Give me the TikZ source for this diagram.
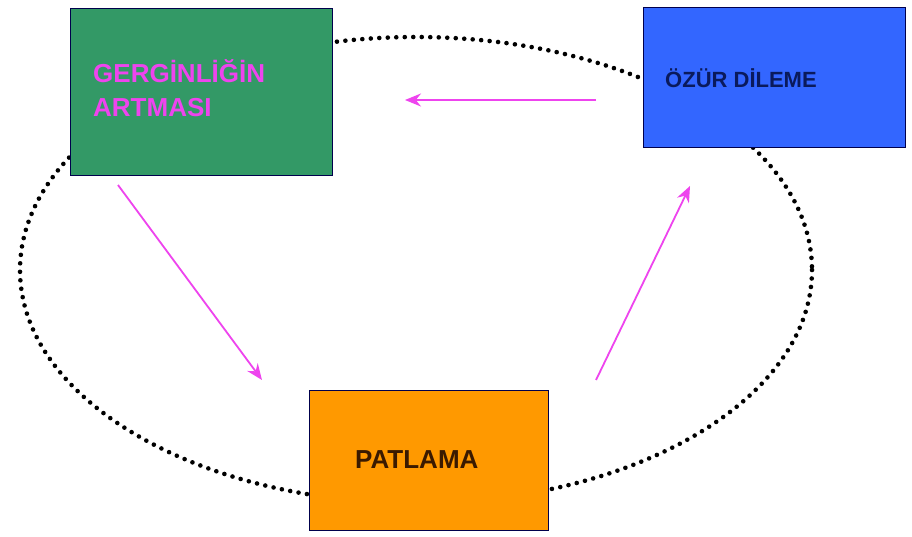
\documentclass[tikz,border=0pt]{standalone}
\usepackage{fontspec}
\setmainfont{Liberation Sans}
\usetikzlibrary{arrows.meta}
\definecolor{boxgreen}{HTML}{339966}
\definecolor{boxblue}{HTML}{3366FF}
\definecolor{boxorange}{HTML}{FF9900}
\definecolor{arrmag}{HTML}{EE44EE}
\definecolor{navytext}{HTML}{0A1A5C}
\definecolor{browntext}{HTML}{3A1A00}
\begin{document}
\begin{tikzpicture}[x=1pt,y=-1pt,
  stagebox/.style={draw=black!70!blue, line width=1.2pt, anchor=north west, inner sep=0pt},
  cyc/.style={draw=black, line width=4.6pt, line cap=round, dash pattern=on 0pt off 8.5pt},
  flow/.style={draw=arrmag, line width=1.8pt, -{Stealth[length=16pt,width=13pt]}},
  lbl/.style={font=\bfseries, anchor=west, inner sep=0pt}]
\useasboundingbox[fill=white] (0,0) rectangle (912,537);
% dotted cycle
\draw[cyc] (416,270) ellipse [x radius=396, y radius=233];
% boxes
\node[stagebox, fill=boxgreen, minimum width=262pt, minimum height=167pt] (g) at (70,8) {};
\node[stagebox, fill=boxblue, minimum width=262pt, minimum height=140pt] (b) at (643,7) {};
\node[stagebox, fill=boxorange, minimum width=239pt, minimum height=140pt] (o) at (309,390) {};
% labels
\node[lbl, text=arrmag, font=\bfseries\fontsize{26}{34}\selectfont, align=left, anchor=north west] (gt) at (93,59) {GERGİNLİĞİN\\ARTMASI};
\node[lbl, text=navytext, font=\bfseries\fontsize{22}{26}\selectfont] (bt) at (665,78) {ÖZÜR DİLEME};
\node[lbl, text=browntext, font=\bfseries\fontsize{26}{30}\selectfont] (ot) at (355,460) {PATLAMA};
% arrows
\coordinate (a1s) at (596,100); \coordinate (a1e) at (405,100);
\coordinate (a2s) at (118,185); \coordinate (a2e) at (262,380);
\coordinate (a3s) at (596,380); \coordinate (a3e) at (690,186);
\draw[flow] (a1s) -- (a1e);
\draw[flow] (a2s) -- (a2e);
\draw[flow] (a3s) -- (a3e);
\end{tikzpicture}
\end{document}
